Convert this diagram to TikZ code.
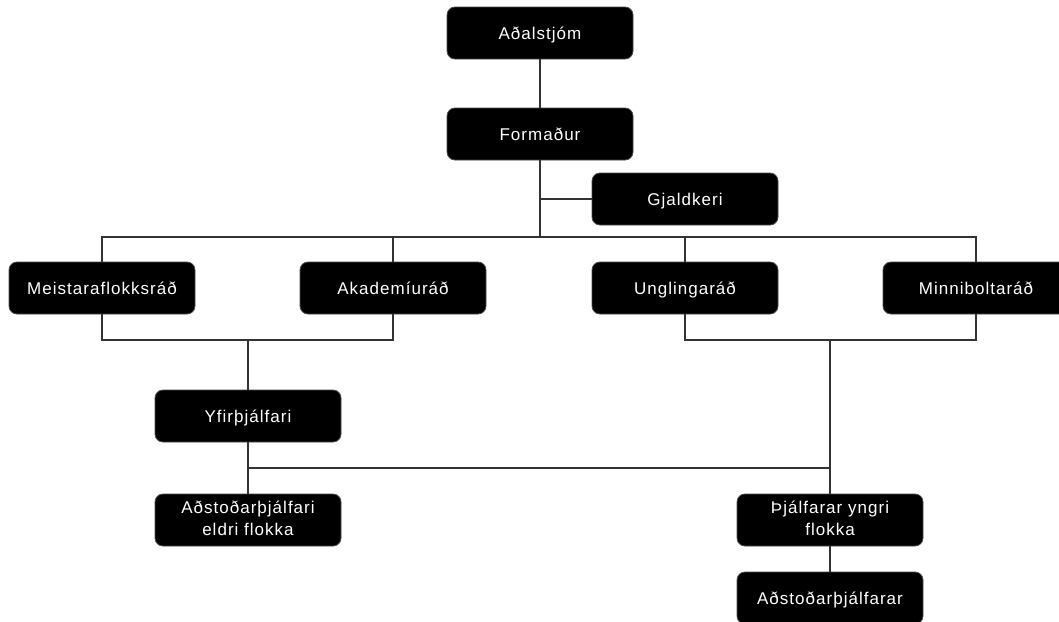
\documentclass[tikz,border=0pt]{standalone}
\usepackage{fontspec}
\setmainfont{Liberation Sans}[LetterSpace=6]
\usetikzlibrary{calc}
\newcommand{\boxstrut}{\rule[-4pt]{0pt}{20pt}}

\begin{document}
\begin{tikzpicture}[
    x=1pt, y=-1pt,
    box/.style={rectangle, rounded corners=8pt, fill=black, draw=black!70, line width=0.8pt,
        minimum width=186pt, minimum height=52pt, inner sep=2pt, text=white, align=center,
        font=\fontsize{17}{22}\selectfont, execute at begin node=\boxstrut},
    wire/.style={draw=black!80, line width=1.2pt},
]
\useasboundingbox (0,0) rectangle (1059,621);

% ==================== TOP ====================
\node[box] (board) at (540,33) {Aðalstjóm};
\node[box] (chair) at (540,134) {Formaður};
\node[box] (treasurer) at (685,199) {Gjaldkeri};

% ==================== COUNCILS ====================
\node[box] (senior)  at (102,288) {Meistaraflokksráð};
\node[box] (academy) at (393,288) {Akademíuráð};
\node[box] (youth)   at (685,288) {Unglingaráð};
\node[box] (minis)   at (976,288) {Minniboltaráð};

% ==================== COACHES ====================
\node[box] (headcoach)   at (248,416) {Yfirþjálfari};
\node[box] (assistOld)   at (248,520) {Aðstoðarþjálfari\\\boxstrut eldri flokka};
\node[box] (youngcoach)  at (830,520) {Þjálfarar yngri\\\boxstrut flokka};
\node[box] (assistYoung) at (830,598) {Aðstoðarþjálfarar};

% bus lines
\coordinate (topbus) at (540,237);
\coordinate (leftbus) at (248,340);
\coordinate (rightbus) at (830,340);
\coordinate (coachbus) at (248,468);

% Top of the tree
\draw[wire] (board) -- (chair);
\draw[wire] (chair.south) -- (topbus);
\draw[wire] (chair.south |- treasurer) -- (treasurer.west);

% Bus to the councils
\draw[wire] (senior.north) |- (minis.north |- topbus) -- (minis.north);
\draw[wire] (academy.north) -- (academy.north |- topbus);
\draw[wire] (youth.north) -- (youth.north |- topbus);

% Councils down to the coaches
\draw[wire] (senior.south) |- (academy.south |- leftbus) -- (academy.south);
\draw[wire] (leftbus) -- (headcoach.north);
\draw[wire] (youth.south) |- (minis.south |- rightbus) -- (minis.south);
\draw[wire] (rightbus) -- (youngcoach.north);

% Coaches
\draw[wire] (headcoach.south) -- (assistOld.north);
\draw[wire] (coachbus) -- (coachbus -| youngcoach.north);
\draw[wire] (youngcoach.south) -- (assistYoung.north);

\end{tikzpicture}
\end{document}
